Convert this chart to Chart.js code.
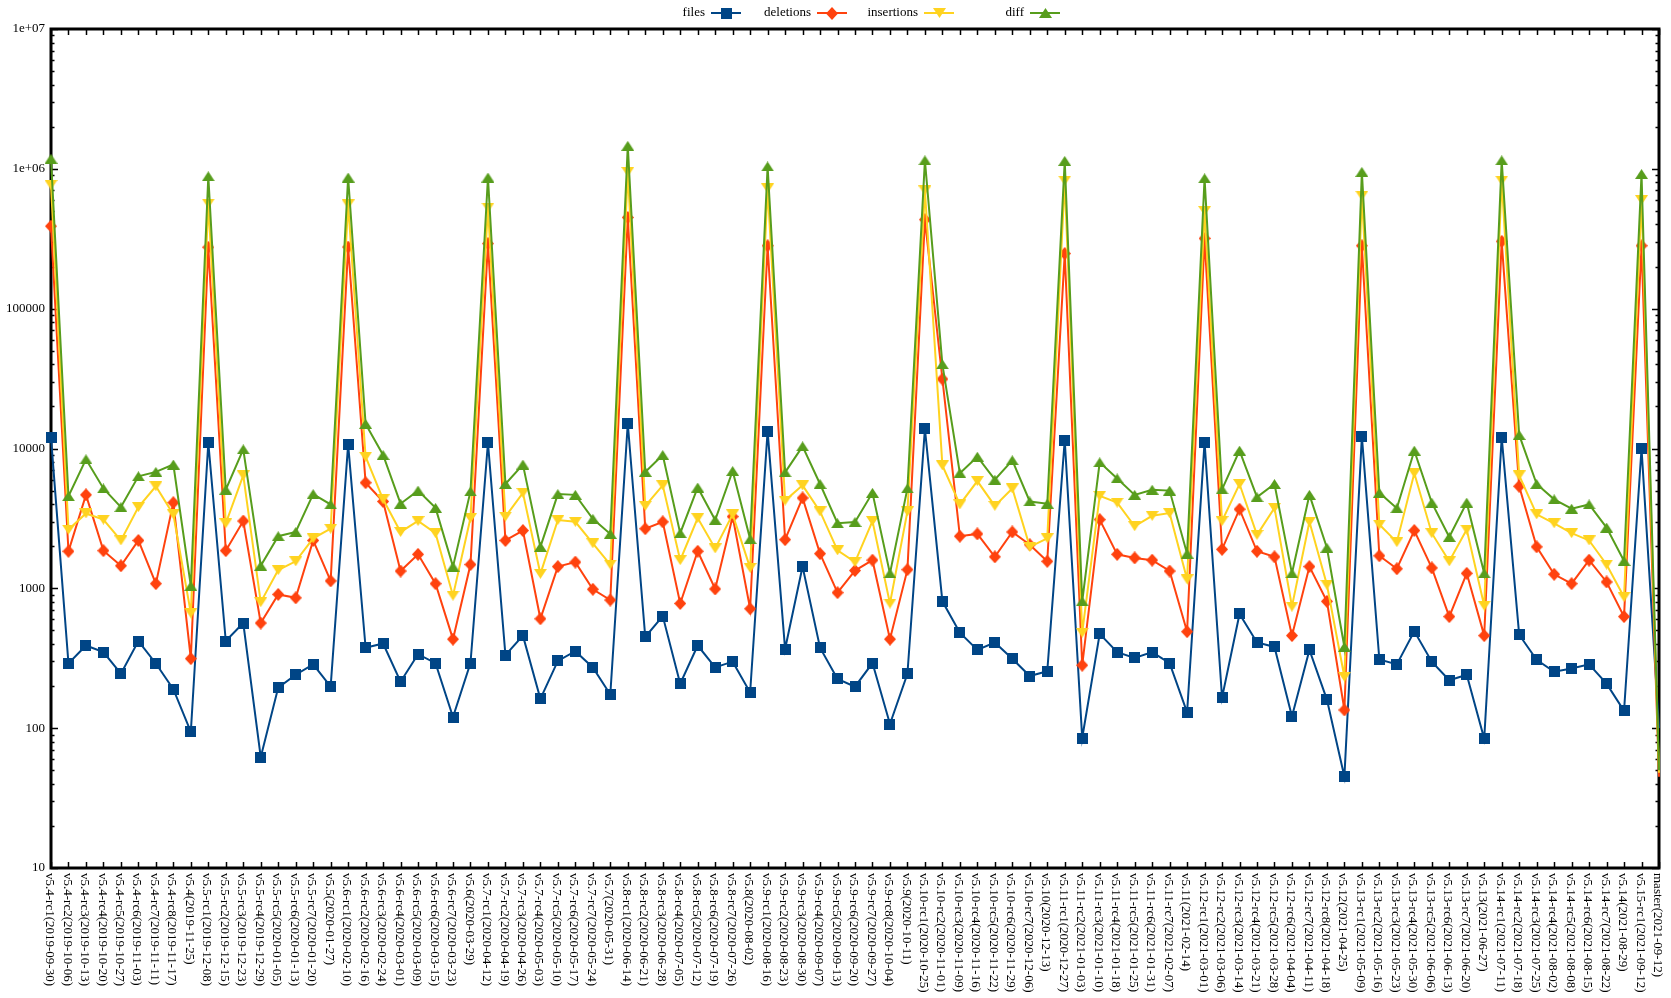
<!DOCTYPE html>
<html><head><meta charset="utf-8">
<script src="https://cdn.jsdelivr.net/npm/chart.js@4.4.0/dist/chart.umd.min.js"></script>
<style>html,body{margin:0;padding:0;background:#fff;}#wrap{width:1671px;height:998px;position:relative;}</style>
</head><body><div id="wrap"><canvas id="c" width="1671" height="998"></canvas></div>
<script>
const categories = ["v5.4-rc1(2019-09-30)","v5.4-rc2(2019-10-06)","v5.4-rc3(2019-10-13)","v5.4-rc4(2019-10-20)","v5.4-rc5(2019-10-27)","v5.4-rc6(2019-11-03)","v5.4-rc7(2019-11-11)","v5.4-rc8(2019-11-17)","v5.4(2019-11-25)",
"v5.5-rc1(2019-12-08)","v5.5-rc2(2019-12-15)","v5.5-rc3(2019-12-23)","v5.5-rc4(2019-12-29)","v5.5-rc5(2020-01-05)","v5.5-rc6(2020-01-13)","v5.5-rc7(2020-01-20)","v5.5(2020-01-27)",
"v5.6-rc1(2020-02-10)","v5.6-rc2(2020-02-16)","v5.6-rc3(2020-02-24)","v5.6-rc4(2020-03-01)","v5.6-rc5(2020-03-09)","v5.6-rc6(2020-03-15)","v5.6-rc7(2020-03-23)","v5.6(2020-03-29)",
"v5.7-rc1(2020-04-12)","v5.7-rc2(2020-04-19)","v5.7-rc3(2020-04-26)","v5.7-rc4(2020-05-03)","v5.7-rc5(2020-05-10)","v5.7-rc6(2020-05-17)","v5.7-rc7(2020-05-24)","v5.7(2020-05-31)",
"v5.8-rc1(2020-06-14)","v5.8-rc2(2020-06-21)","v5.8-rc3(2020-06-28)","v5.8-rc4(2020-07-05)","v5.8-rc5(2020-07-12)","v5.8-rc6(2020-07-19)","v5.8-rc7(2020-07-26)","v5.8(2020-08-02)",
"v5.9-rc1(2020-08-16)","v5.9-rc2(2020-08-23)","v5.9-rc3(2020-08-30)","v5.9-rc4(2020-09-07)","v5.9-rc5(2020-09-13)","v5.9-rc6(2020-09-20)","v5.9-rc7(2020-09-27)","v5.9-rc8(2020-10-04)","v5.9(2020-10-11)",
"v5.10-rc1(2020-10-25)","v5.10-rc2(2020-11-01)","v5.10-rc3(2020-11-09)","v5.10-rc4(2020-11-16)","v5.10-rc5(2020-11-22)","v5.10-rc6(2020-11-29)","v5.10-rc7(2020-12-06)","v5.10(2020-12-13)",
"v5.11-rc1(2020-12-27)","v5.11-rc2(2021-01-03)","v5.11-rc3(2021-01-10)","v5.11-rc4(2021-01-18)","v5.11-rc5(2021-01-25)","v5.11-rc6(2021-01-31)","v5.11-rc7(2021-02-07)","v5.11(2021-02-14)",
"v5.12-rc1(2021-03-01)","v5.12-rc2(2021-03-06)","v5.12-rc3(2021-03-14)","v5.12-rc4(2021-03-21)","v5.12-rc5(2021-03-28)","v5.12-rc6(2021-04-04)","v5.12-rc7(2021-04-11)","v5.12-rc8(2021-04-18)","v5.12(2021-04-25)",
"v5.13-rc1(2021-05-09)","v5.13-rc2(2021-05-16)","v5.13-rc3(2021-05-23)","v5.13-rc4(2021-05-30)","v5.13-rc5(2021-06-06)","v5.13-rc6(2021-06-13)","v5.13-rc7(2021-06-20)","v5.13(2021-06-27)",
"v5.14-rc1(2021-07-11)","v5.14-rc2(2021-07-18)","v5.14-rc3(2021-07-25)","v5.14-rc4(2021-08-02)","v5.14-rc5(2021-08-08)","v5.14-rc6(2021-08-15)","v5.14-rc7(2021-08-22)","v5.14(2021-08-29)",
"v5.15-rc1(2021-09-12)","master(2021-09-12)"];

const files = [12000,290,390,350,245,420,290,190,94,
11000,420,565,62,195,241,286,198,
10700,376,403,215,338,292,120,292,
11000,333,459,162,303,355,272,174,
15100,449,633,208,390,272,299,180,
13300,368,1430,376,225,198,292,107,245,
13800,807,482,363,410,314,236,255,
11500,85,472,350,318,350,292,130,
11100,165,656,410,381,121,363,160,45,
12200,310,286,493,299,220,241,84,
12000,466,308,253,267,286,208,133,
10000,100];

const deletions = [389000,1840,4660,1860,1450,2200,1080,4100,314,
275000,1860,3030,565,905,855,2200,1130,
276000,5690,4180,1330,1750,1080,433,1480,
292000,2200,2590,606,1430,1540,985,825,
449000,2670,2990,779,1840,990,3260,715,
282000,2230,4430,1770,931,1340,1590,433,1360,
433000,31400,2360,2450,1680,2530,2050,1560,
248000,282,3100,1750,1650,1590,1330,490,
318000,1900,3680,1840,1680,459,1430,807,135,
282000,1710,1380,2590,1400,628,1280,459,
303000,5370,1980,1260,1080,1590,1110,628,
282000,45];

const insertions = [768000,2630,3430,3100,2200,3810,5370,3380,665,
565000,2920,6420,796,1350,1560,2280,2670,
557000,8730,4330,2530,3030,2480,886,3180,
529000,3260,4820,1270,3080,2990,2100,1480,
951000,3890,5450,1590,3180,1930,3380,1400,
725000,4240,5450,3550,1870,1540,3030,779,3550,
700000,7570,3980,5850,3890,5180,1980,2280,
824000,482,4590,4100,2780,3300,3450,1160,
500000,3030,5570,2410,3760,741,2990,1060,233,
642000,2860,2140,6660,2480,1560,2630,751,
824000,6420,3380,2920,2480,2200,1480,867,
598000,48];

const diff = [1180000,4560,8370,5180,3810,6330,6800,7680,1040,
885000,5070,9860,1450,2360,2530,4720,3980,
867000,15000,8980,4030,5000,3760,1430,4930,
867000,5570,7680,1980,4720,4660,3140,2450,
1460000,6800,8980,2480,5260,3080,6900,2250,
1040000,6750,10360,5570,2920,2980,4820,1280,5180,
1150000,40000,6660,8730,5980,8240,4180,4030,
1140000,807,7960,6110,4660,5070,5000,1770,
855000,5100,9650,4490,5570,1280,4660,1950,381,
951000,4820,3740,9650,4100,2330,4100,1280,
1150000,12500,5570,4330,3710,3980,2720,1570,
918000,50];

const yTickValues = [10,100,1000,10000,100000,1000000,10000000];
const yTickLabels = ["10","100","1000","10000","100000","1e+06","1e+07"];
const seriesNames = ["files","deletions","insertions","diff"];

const COLORS = {files:"#004586", deletions:"#ff420e", insertions:"#ffd320", diff:"#579d1c"};
const FONT = "'Liberation Serif', 'DejaVu Serif', serif";

function makeMarker(shape, color) {
  const c = document.createElement('canvas');
  let w = 11, h = 11;
  if (shape === 'diamond') { w = 12; h = 13; }
  if (shape === 'up' || shape === 'down') { w = 13; h = 10; }
  c.width = w; c.height = h;
  const x = c.getContext('2d');
  x.fillStyle = color;
  x.beginPath();
  if (shape === 'square') { x.rect(0, 0, w, h); }
  else if (shape === 'diamond') { x.moveTo(w/2, 0); x.lineTo(w, h/2); x.lineTo(w/2, h); x.lineTo(0, h/2); }
  else if (shape === 'up') { x.moveTo(w/2, 0); x.lineTo(w, h); x.lineTo(0, h); }
  else if (shape === 'down') { x.moveTo(0, 0); x.lineTo(w, 0); x.lineTo(w/2, h); }
  x.closePath();
  x.fill();
  return c;
}
const markers = {
  files: makeMarker('square', COLORS.files),
  deletions: makeMarker('diamond', COLORS.deletions),
  insertions: makeMarker('down', COLORS.insertions),
  diff: makeMarker('up', COLORS.diff)
};

function ds(name, data, order) {
  return {
    label: name, data: data, order: order,
    borderColor: COLORS[name], backgroundColor: COLORS[name],
    borderWidth: 2, pointStyle: markers[name],
    pointRadius: (c) => (c.dataIndex === categories.length - 1 ? 0 : 6),
    tension: 0, clip: false
  };
}

const framePlugin = {
  id: 'frame',
  beforeDatasetsDraw(chart) {
    const {ctx, chartArea: a} = chart;
    const xs = chart.scales.x, ys = chart.scales.y;
    ctx.save();
    ctx.strokeStyle = '#000';
    ctx.lineWidth = 1.5;
    ctx.beginPath();
    for (let i = 0; i < categories.length; i++) {
      const x = Math.round(xs.getPixelForValue(i)) + 0.5;
      ctx.moveTo(x, a.bottom); ctx.lineTo(x, a.bottom - 6);
      ctx.moveTo(x, a.top); ctx.lineTo(x, a.top + 6);
    }
    for (let d = 0; d < yTickValues.length; d++) {
      const base = yTickValues[d];
      for (let m = 1; m <= 9; m++) {
        const v = base * m;
        if (v > yTickValues[yTickValues.length - 1]) break;
        const y = Math.round(ys.getPixelForValue(v)) + 0.5;
        const len = m === 1 ? 7 : 3.5;
        ctx.moveTo(a.left, y); ctx.lineTo(a.left + len, y);
        ctx.moveTo(a.right, y); ctx.lineTo(a.right - len, y);
      }
    }
    ctx.stroke();
    ctx.lineWidth = 3;
    ctx.strokeRect(a.left, a.top, a.right - a.left, a.bottom - a.top);
    ctx.restore();
  },
  afterDraw(chart) {
    const {ctx, chartArea: a} = chart;
    const xs = chart.scales.x;
    ctx.save();
    ctx.fillStyle = '#000';
    ctx.font = "13px " + FONT;
    ctx.textAlign = 'left';
    ctx.textBaseline = 'middle';
    for (let i = 0; i < categories.length; i++) {
      const x = xs.getPixelForValue(i) - 1.5;
      ctx.save();
      ctx.translate(x, a.bottom + 5);
      ctx.rotate(Math.PI / 2);
      ctx.fillText(categories[i], 0, 0);
      ctx.restore();
    }
    const samplesRight = [741, 847, 954, 1060];
    const ly = 13;
    ctx.textAlign = 'right';
    chart.data.datasets.slice().sort((p, q) => seriesNames.indexOf(p.label) - seriesNames.indexOf(q.label)).forEach((d, k) => {
      const r = samplesRight[k], l = r - 30;
      ctx.fillStyle = '#000';
      ctx.fillText(d.label, l - 6, ly);
      ctx.strokeStyle = d.borderColor;
      ctx.lineWidth = 2;
      ctx.beginPath(); ctx.moveTo(l, ly); ctx.lineTo(r, ly); ctx.stroke();
      const m = markers[d.label];
      ctx.drawImage(m, Math.round((l + r) / 2 - m.width / 2), Math.round(ly - m.height / 2));
    });
    ctx.restore();
  }
};

new Chart(document.getElementById('c'), {
  type: 'line',
  data: {
    labels: categories,
    datasets: [ds('files', files, 3), ds('deletions', deletions, 2), ds('insertions', insertions, 1), ds('diff', diff, 0)]
  },
  options: {
    responsive: false, animation: false, devicePixelRatio: 1,
    layout: {padding: {left: 0, right: 12, top: 29, bottom: 0}},
    plugins: {legend: {display: false}, tooltip: {enabled: false}},
    scales: {
      x: {
        type: 'category', offset: false,
        grid: {display: false, drawTicks: false}, border: {display: false},
        ticks: {display: false},
        afterFit(s) { s.height = 130; }
      },
      y: {
        type: 'logarithmic', min: 10, max: 10000000,
        grid: {display: false, drawTicks: false}, border: {display: false},
        afterBuildTicks(s) { s.ticks = yTickValues.map(v => ({value: v})); },
        ticks: {
          color: '#000', padding: 6, autoSkip: false,
          font: {family: FONT, size: 13},
          callback(v) { const i = yTickValues.indexOf(v); return i >= 0 ? yTickLabels[i] : ''; }
        },
        afterFit(s) { s.width = 51; }
      }
    }
  },
  plugins: [framePlugin]
});
</script></body></html>
